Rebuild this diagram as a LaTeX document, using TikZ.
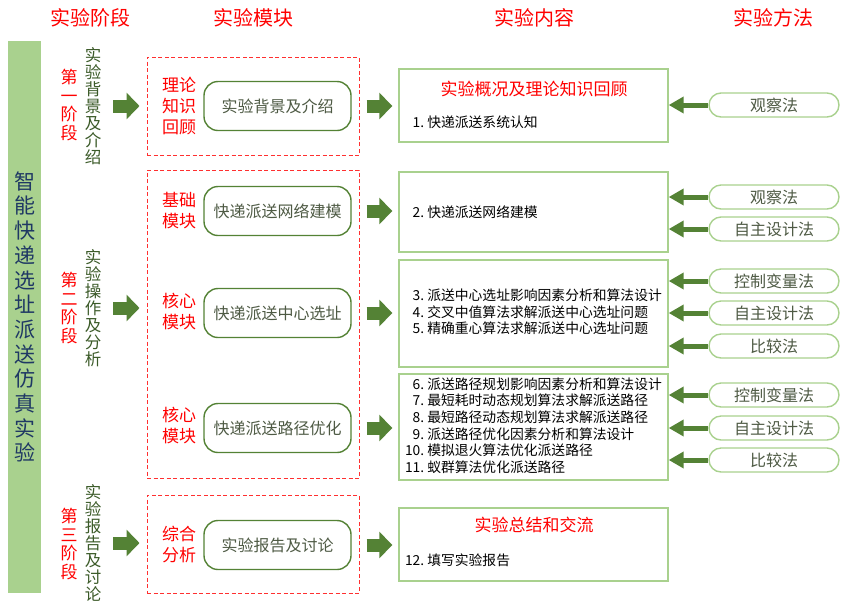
\documentclass[tikz,border=0pt]{standalone}
\usepackage{fontspec}
\setmainfont{Noto Sans CJK SC}
\usepackage{tikz}
\usetikzlibrary{positioning,calc,arrows.meta,shapes.misc}
\definecolor{redtxt}{HTML}{FF0000}
\definecolor{dashred}{HTML}{FF3030}
\definecolor{darkgreen}{HTML}{548235}
\definecolor{lightgreen}{HTML}{A9D18E}
\definecolor{navytxt}{HTML}{1F3864}
\definecolor{stagetxt}{HTML}{3B5A28}
\definecolor{grytxt}{HTML}{4E5A44}
\newcommand{\itemno}[1]{\makebox[19pt][r]{#1}\ }

\begin{document}
\begin{tikzpicture}[x=1pt, y=-1pt,
    header/.style={text=redtxt, font=\fontsize{20}{24}\selectfont},
    phase/.style={text=redtxt, align=center, inner sep=0pt, font=\fontsize{17}{18.5}\selectfont},
    stage/.style={text=stagetxt, align=center, inner sep=0pt, font=\fontsize{16.5}{17}\selectfont},
    frame/.style={draw=dashred, line width=1pt, dash pattern=on 4pt off 2.5pt, minimum width=212pt},
    tag/.style={text=redtxt, align=center, inner sep=0pt, font=\fontsize{17}{21}\selectfont},
    module/.style={draw=darkgreen, line width=1.4pt, rounded corners=14pt, fill=white,
        minimum width=147pt, minimum height=49pt, text=grytxt, font=\fontsize{16}{18}\selectfont},
    content/.style={draw=lightgreen, line width=1.4pt, fill=white, minimum width=269pt},
    item/.style={anchor=west, inner sep=0pt, align=left, font=\fontsize{13.8}{16.7}\selectfont},
    method/.style={draw=lightgreen, line width=1.4pt, rounded rectangle, fill=white,
        minimum width=130pt, minimum height=24pt, inner sep=0pt, text=grytxt,
        font=\fontsize{16}{18}\selectfont},
    bigarrow/.style={darkgreen, line width=13pt, -{Triangle[length=13pt,width=26pt]}},
    smallarrow/.style={darkgreen, line width=5pt, -{Triangle[length=15pt,width=16pt]}}]

    \useasboundingbox (0,0) rectangle (853,611);

    % column headings
    \node[header] (h1) at (90,18) {实验阶段};
    \node[header] (h2) at (253,18) {实验模块};
    \node[header] (h3) at (534,18) {实验内容};
    \node[header] (h4) at (773,18) {实验方法};

    % title bar
    \node[fill=lightgreen, minimum width=33pt, minimum height=552pt, inner sep=0pt,
        align=center, text=navytxt, font=\fontsize{21}{24.7}\selectfont] (bar) at (24.5,317)
        {智\\能\\快\\递\\选\\址\\派\\送\\仿\\真\\实\\验};

    % stages
    \node[phase] (p1) at (69,105) {第\\一\\阶\\段};
    \node[stage] (s1) at (93,106) {实\\验\\背\\景\\及\\介\\绍};
    \node[phase] (p2) at (69,308) {第\\二\\阶\\段};
    \node[stage] (s2) at (93,308) {实\\验\\操\\作\\及\\分\\析};
    \node[phase] (p3) at (69,544) {第\\三\\阶\\段};
    \node[stage] (s3) at (93,543) {实\\验\\报\\告\\及\\讨\\论};

    % module frames
    \node[frame, minimum height=98pt] (f1) at (253,106) {};
    \node[frame, minimum height=308pt] (f2) at (253,324) {};
    \node[frame, minimum height=98pt] (f3) at (253,544) {};

    % modules
    \node[tag] (t1) at (179,106) {理论\\知识\\回顾};
    \node[module] (m1) at (277.5,106) {实验背景及介绍};
    \node[tag] (t2) at (179,211) {基础\\模块};
    \node[module] (m2) at (277.5,211) {快递派送网络建模};
    \node[tag] (t3) at (179,312) {核心\\模块};
    \node[module] (m3) at (277.5,313) {快递派送中心选址};
    \node[tag] (t4) at (179,426) {核心\\模块};
    \node[module] (m4) at (277.5,428) {快递派送路径优化};
    \node[tag] (t5) at (179,545) {综合\\分析};
    \node[module] (m5) at (277.5,545) {实验报告及讨论};

    % contents
    \node[content, minimum height=73pt] (c1) at (533.5,105.5) {};
    \node[text=redtxt, font=\fontsize{17}{20}\selectfont] (c1t) at (534,89) {实验概况及理论知识回顾};
    \node[item] (c1i) at (405,122) {\itemno{1.}快递派送系统认知};
    \node[content, minimum height=80pt] (c2) at (533.5,212) {};
    \node[item] (c2i) at (405,212) {\itemno{2.}快递派送网络建模};
    \node[content, minimum height=107pt] (c3) at (533.5,313.5) {};
    \node[item] (c3i) at (405,312) {\itemno{3.}派送中心选址影响因素分析和算法设计\\
        \itemno{4.}交叉中值算法求解派送中心选址问题\\
        \itemno{5.}精确重心算法求解派送中心选址问题};
    \node[content, minimum height=106pt] (c4) at (533.5,427) {};
    \node[item] (c4i) at (405,425.5) {\itemno{6.}派送路径规划影响因素分析和算法设计\\
        \itemno{7.}最短耗时动态规划算法求解派送路径\\
        \itemno{8.}最短路径动态规划算法求解派送路径\\
        \itemno{9.}派送路径优化因素分析和算法设计\\
        \itemno{10.}模拟退火算法优化派送路径\\
        \itemno{11.}蚁群算法优化派送路径};
    \node[content, minimum height=73pt] (c5) at (533.5,544.5) {};
    \node[text=redtxt, font=\fontsize{17}{20}\selectfont] (c5t) at (534,525) {实验总结和交流};
    \node[item] (c5i) at (405,560) {\itemno{12.}填写实验报告};

    % methods
    \node[method] (k1) at (774,105) {观察法};
    \node[method] (k2) at (774,197) {观察法};
    \node[method] (k3) at (774,229) {自主设计法};
    \node[method] (k4) at (774,281) {控制变量法};
    \node[method] (k5) at (774,313) {自主设计法};
    \node[method] (k6) at (774,346) {比较法};
    \node[method] (k7) at (774,395) {控制变量法};
    \node[method] (k8) at (774,428) {自主设计法};
    \node[method] (k9) at (774,460) {比较法};

    % stage -> module
    \draw[bigarrow, shorten <=12pt, shorten >=7pt] (s1.east) -- (s1.east -| f1.west);
    \draw[bigarrow, shorten <=12pt, shorten >=7pt] (s2.east) -- (s2.east -| f2.west);
    \draw[bigarrow, shorten <=12pt, shorten >=7pt] (s3.east) -- (s3.east -| f3.west);

    % module -> content
    \foreach \i in {1,...,5}
        \draw[bigarrow, shorten <=15pt, shorten >=6pt] (m\i.east) -- (m\i.east -| c\i.west);

    % method -> content
    \draw[smallarrow] (k1.west) -- (k1.west -| c1.east);
    \draw[smallarrow] (k2.west) -- (k2.west -| c2.east);
    \draw[smallarrow] (k3.west) -- (k3.west -| c2.east);
    \draw[smallarrow] (k4.west) -- (k4.west -| c3.east);
    \draw[smallarrow] (k5.west) -- (k5.west -| c3.east);
    \draw[smallarrow] (k6.west) -- (k6.west -| c3.east);
    \draw[smallarrow] (k7.west) -- (k7.west -| c4.east);
    \draw[smallarrow] (k8.west) -- (k8.west -| c4.east);
    \draw[smallarrow] (k9.west) -- (k9.west -| c4.east);
\end{tikzpicture}
\end{document}
